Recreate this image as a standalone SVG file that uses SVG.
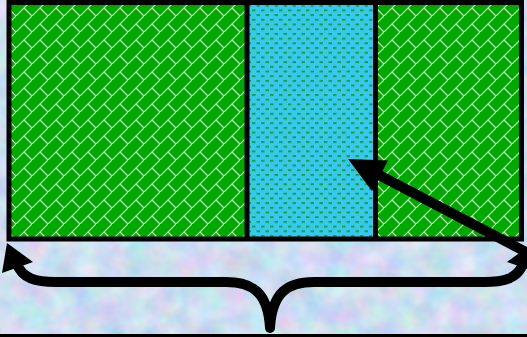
<svg xmlns="http://www.w3.org/2000/svg" width="527" height="337" viewBox="0 0 527 337">
  <defs>
    <filter id="tex" x="0" y="0" width="100%" height="100%" color-interpolation-filters="sRGB">
      <feTurbulence type="fractalNoise" baseFrequency="0.04" numOctaves="3" seed="4"/>
      <feColorMatrix type="matrix" values="0.35 0 0 0 0.63  0 0.22 0 0 0.76  0 0 0.14 0 0.87  0 0 0 0 1"/>
    </filter>
    <pattern id="brick" patternUnits="userSpaceOnUse" width="16" height="16">
      <rect width="16" height="16" fill="#00a800"/>
      <path d="M-1,17 L17,-1 M8,8 L16,16" stroke="#d0f0c8" stroke-width="1.2" fill="none"/>
    </pattern>
    <pattern id="dots" patternUnits="userSpaceOnUse" width="9" height="9.4">
      <rect width="9" height="9.4" fill="#36c8f0"/>
      <rect x="0" y="0" width="3.5" height="2" fill="#1ca43a"/>
      <rect x="4.5" y="4.7" width="3.5" height="2" fill="#1ca43a"/>
    </pattern>
    <style>
      .edge { fill: none; stroke: #000; stroke-width: 5; }
      .thick { fill: none; stroke: #000; stroke-width: 10; }
      .head { fill: #000; }
    </style>
  </defs>

  <g id="background">
    <rect x="0" y="0" width="527" height="337" filter="url(#tex)"/>
    <rect x="0" y="334" width="527" height="3" fill="#000"/>
  </g>

  <g id="left-block">
    <rect x="9" y="2.5" width="238" height="236.5" fill="url(#brick)"/>
  </g>
  <g id="middle-block">
    <rect x="247" y="2.5" width="128" height="236.5" fill="url(#dots)"/>
  </g>
  <g id="right-block">
    <rect x="375" y="2.5" width="146.5" height="236.5" fill="url(#brick)"/>
  </g>
  <g id="outline">
    <rect class="edge" x="9" y="2.5" width="512.5" height="236.5"/>
    <line class="edge" x1="247" y1="0" x2="247" y2="239"/>
    <line class="edge" x1="375.5" y1="0" x2="375.5" y2="239"/>
  </g>

  <g id="connectors">
    <g id="brace">
      <path class="thick" d="M16,262 C22,279 36,282 56,282 L226,282 C252,282 268,292 270,328"/>
      <path class="thick" d="M524,262 C518,279 504,282 484,282 L314,282 C288,282 272,292 270,328"/>
      <circle class="head" cx="270" cy="328" r="5"/>
      <polygon class="head" points="7,243 2,273 33,262"/>
      <polygon class="head" points="533,243 538,273 507,262"/>
    </g>
    <g id="pointer">
      <line class="thick" x1="378" y1="174.5" x2="545" y2="262"/>
      <polygon class="head" points="348,159 388,160.5 372,191"/>
    </g>
  </g>
</svg>
